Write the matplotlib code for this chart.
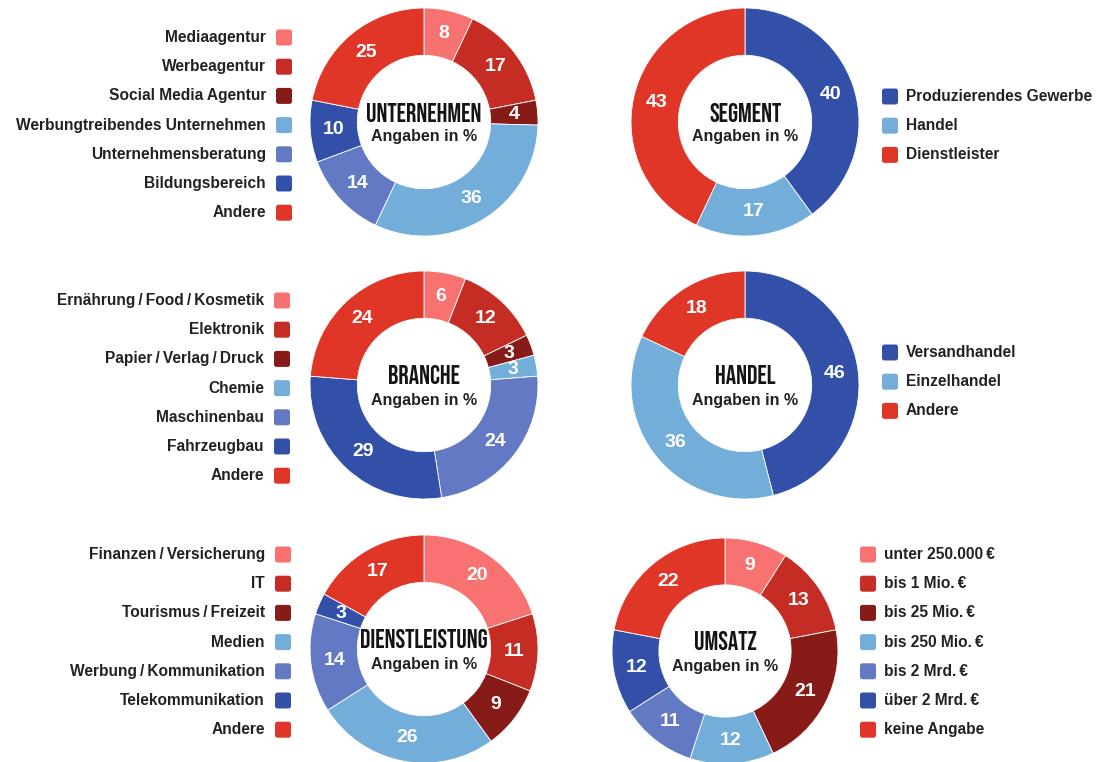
import numpy as np
import matplotlib.pyplot as plt
from matplotlib.patches import FancyBboxPatch

W, H = 1098, 762

# colours used across all donuts
PINK = "#f77270"
RED = "#c42c24"
DARK_RED = "#861b18"
LIGHT_BLUE = "#73aedb"
PERIWINKLE = "#6479c4"
DARK_BLUE = "#3250a8"
BRIGHT_RED = "#e03628"

TS = "\u2009/\u2009"

unternehmen_labels = ["Mediaagentur", "Werbeagentur", "Social Media Agentur",
                      "Werbungtreibendes Unternehmen", "Unternehmensberatung",
                      "Bildungsbereich", "Andere"]
unternehmen_values = [8, 17, 4, 36, 14, 10, 25]

segment_labels = ["Produzierendes Gewerbe", "Handel", "Dienstleister"]
segment_values = [40, 17, 43]

branche_labels = ["Ernährung" + TS + "Food" + TS + "Kosmetik", "Elektronik",
                  "Papier" + TS + "Verlag" + TS + "Druck", "Chemie",
                  "Maschinenbau", "Fahrzeugbau", "Andere"]
branche_values = [6, 12, 3, 3, 24, 29, 24]

handel_labels = ["Versandhandel", "Einzelhandel", "Andere"]
handel_values = [46, 36, 18]

dienst_labels = ["Finanzen" + TS + "Versicherung", "IT", "Tourismus" + TS + "Freizeit",
                 "Medien", "Werbung" + TS + "Kommunikation", "Telekommunikation", "Andere"]
dienst_values = [20, 11, 9, 26, 14, 3, 17]

umsatz_labels = ["unter 250.000\u2009€", "bis 1 Mio.\u2009€", "bis 25 Mio.\u2009€",
                 "bis 250 Mio.\u2009€", "bis 2 Mrd.\u2009€", "über 2 Mrd.\u2009€",
                 "keine Angabe"]
umsatz_values = [9, 13, 21, 12, 11, 12, 22]

seven = [PINK, RED, DARK_RED, LIGHT_BLUE, PERIWINKLE, DARK_BLUE, BRIGHT_RED]
three = [DARK_BLUE, LIGHT_BLUE, BRIGHT_RED]

FONT = ["Liberation Sans", "DejaVu Sans"]
TITLE_FONT = ["Bebas Neue", "DejaVu Sans"]

fig = plt.figure(figsize=(W / 100, H / 100), dpi=100)
overlay = fig.add_axes([0, 0, 1, 1], zorder=5)
overlay.set_xlim(0, W)
overlay.set_ylim(H, 0)
overlay.axis("off")
overlay.patch.set_alpha(0)

RING = 0.415


def donut(cx, cy, r, values, colors, title):
    ax = fig.add_axes([(cx - r) / W, 1 - (cy + r) / H, 2 * r / W, 2 * r / H])
    wedges, _ = ax.pie(values, colors=colors, startangle=90, counterclock=False,
                       radius=1, wedgeprops=dict(width=RING, edgecolor="white",
                                                 linewidth=0.6))
    ax.set_xlim(-1, 1)
    ax.set_ylim(-1, 1)
    ax.set_aspect("equal")
    ax.axis("off")
    for w, v in zip(wedges, values):
        ang = np.deg2rad((w.theta1 + w.theta2) / 2)
        rr = 1 - RING / 2
        ax.text(rr * np.cos(ang), rr * np.sin(ang), str(v), color="white",
                fontsize=14, fontweight="bold", family=FONT,
                ha="center", va="center")
    overlay.text(cx, cy - 10, title, fontsize=18.5, family=TITLE_FONT,
                 color="#141414", ha="center", va="center")
    overlay.text(cx, cy + 15, "Angaben in %", fontsize=11.5, fontweight="bold",
                 family=FONT, color="#222222", ha="center", va="center")


def legend(labels, colors, y0, sq_x, side):
    for i, (lab, col) in enumerate(zip(labels, colors)):
        y = y0 + i * 29.2
        overlay.add_patch(FancyBboxPatch((sq_x, y - 7.5), 16, 16,
                                         boxstyle="round,pad=0,rounding_size=2.5",
                                         facecolor=col, edgecolor="none"))
        if side == "left":
            overlay.text(sq_x - 10, y + 0.5, lab, ha="right", va="center",
                         fontsize=11.2, fontweight="bold", family=FONT,
                         color="#222222")
        else:
            overlay.text(sq_x + 24, y + 0.5, lab, ha="left", va="center",
                         fontsize=11.2, fontweight="bold", family=FONT,
                         color="#222222")


donut(424, 122, 114, unternehmen_values, seven, "UNTERNEHMEN")
legend(unternehmen_labels, seven, 37, 276, "left")

donut(745, 122, 114, segment_values, three, "SEGMENT")
legend(segment_labels, three, 96, 882, "right")

donut(424, 385, 114, branche_values, seven, "BRANCHE")
legend(branche_labels, seven, 300, 274, "left")

donut(745, 385, 114, handel_values, three, "HANDEL")
legend(handel_labels, three, 352, 882, "right")

donut(424, 649, 114, dienst_values, seven, "DIENSTLEISTUNG")
legend(dienst_labels, seven, 554, 275, "left")

donut(725, 651, 113, umsatz_values, seven, "UMSATZ")
legend(umsatz_labels, seven, 554, 860, "right")

fig.savefig("out.png", dpi=100)
